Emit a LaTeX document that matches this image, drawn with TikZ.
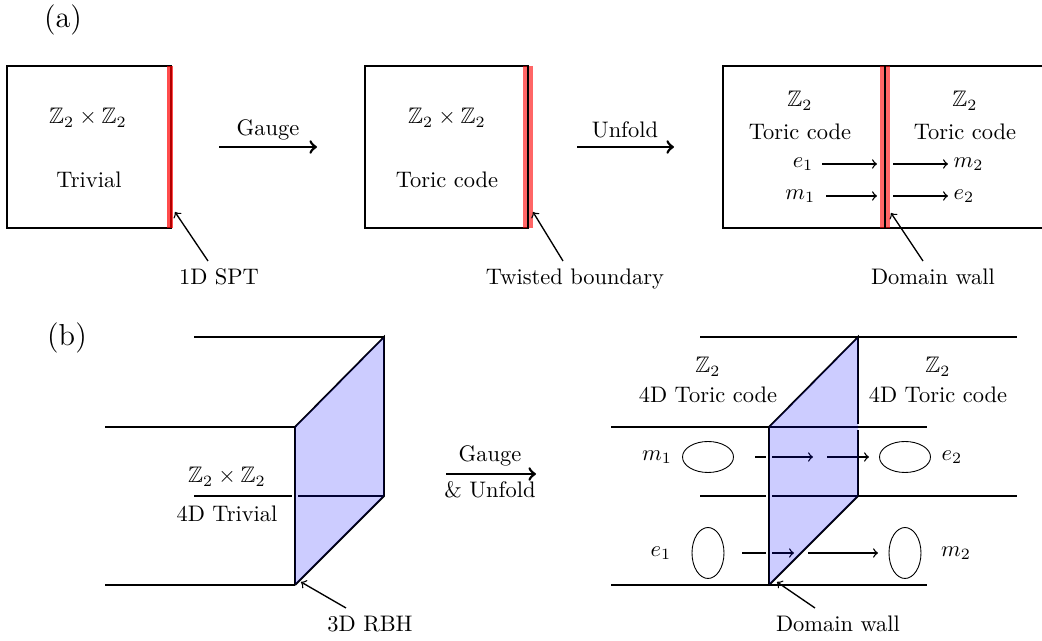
\documentclass[tikz,border=0pt]{standalone}
\usepackage{amssymb}
\usetikzlibrary{shapes.geometric}
\begin{document}
\begin{tikzpicture}[x=0.445pt,y=-0.445pt,
  box/.style={draw,thick},
  ln/.style={thick},
  bigarrow/.style={->,very thick},
  thinarrow/.style={->,semithick},
  wallband/.style={draw=red,line width=4.45pt,opacity=0.6},
  gapwhite/.style={draw=white,line width=2.6pt},
  face/.style={fill=blue,fill opacity=0.2},
  txt/.style={inner sep=0pt,anchor=base},
  plabel/.style={inner sep=0pt,anchor=base,font=\fontsize{13.5}{16}\selectfont},
  blob/.style={draw,ellipse,inner sep=0pt},
]
\useasboundingbox (0,0) rectangle (1042,641);

% ---------------- (a) ----------------
\node[plabel] (la) at (63,28) {(a)};

% box 1
\draw[box] (7,66) rectangle (171,228);
\coordinate (w1t) at (170,66);
\coordinate (w1b) at (170,228);
\draw[wallband,line width=3.1pt,opacity=0.7] (w1t) -- (w1b);
\node[txt] (z1) at (88,124) {$\mathbb{Z}_2\times\mathbb{Z}_2$};
\node[txt] (t1) at (89,188) {Trivial};

% gauge arrow
\coordinate (g1s) at (219,147);
\coordinate (g1e) at (317,147);
\draw[bigarrow] (g1s) -- (g1e);
\node[txt] (gauge1) at (268,136) {Gauge};

% 1D SPT
\node[txt] (spt) at (219,285) {1D SPT};
\coordinate (spts) at (208,261);
\coordinate (spte) at (175,212);
\draw[thinarrow] (spts) -- (spte);

% box 2
\draw[box] (365,66) rectangle (528,228);
\coordinate (w2t) at (528,66);
\coordinate (w2b) at (528,228);
\draw[wallband] (w2t) -- (w2b);
\draw[thick] (w2t) -- (w2b);
\node[txt] (z2) at (447,124) {$\mathbb{Z}_2\times\mathbb{Z}_2$};
\node[txt] (t2) at (447,188) {Toric code};

% unfold arrow
\coordinate (u1s) at (577,147);
\coordinate (u1e) at (674,147);
\draw[bigarrow] (u1s) -- (u1e);
\node[txt] (unfold1) at (625,138) {Unfold};

% twisted boundary
\node[txt] (twb) at (575,285) {Twisted boundary};
\coordinate (twbs) at (563,261);
\coordinate (twbe) at (533,212);
\draw[thinarrow] (twbs) -- (twbe);

% box 3
\draw[box] (1042,66) -- (723,66) -- (723,228) -- (1042,228);
\coordinate (w3t) at (885,66);
\coordinate (w3b) at (885,228);
\draw[wallband] (w3t) -- (w3b);
\draw[thick] (w3t) -- (w3b);
\node[txt] (z3l) at (800,107) {$\mathbb{Z}_2$};
\node[txt] (t3l) at (800,140) {Toric code};
\node[txt] (z3r) at (965,107) {$\mathbb{Z}_2$};
\node[txt] (t3r) at (965,140) {Toric code};

\node[anchor=east,inner sep=1pt] (e1a) at (816,164) {$e_1$};
\node[anchor=west,inner sep=1pt] (m2a) at (951,164) {$m_2$};
\node[anchor=east,inner sep=1pt] (m1a) at (818,196) {$m_1$};
\node[anchor=west,inner sep=1pt] (e2a) at (951,196) {$e_2$};
\coordinate (r1l) at (877,164);
\coordinate (r1r) at (893,164);
\coordinate (r2l) at (877,196);
\coordinate (r2r) at (893,196);
\coordinate (e1o) at (822,164);
\coordinate (m2o) at (948,164);
\coordinate (m1o) at (826,196);
\coordinate (e2o) at (948,196);
\draw[thinarrow] (e1o) -- (r1l);
\draw[thinarrow] (r1r) -- (m2o);
\draw[thinarrow] (m1o) -- (r2l);
\draw[thinarrow] (r2r) -- (e2o);

% domain wall (a)
\node[txt] (dwa) at (933,285) {Domain wall};
\coordinate (dwas) at (923,261);
\coordinate (dwae) at (891,213);
\draw[thinarrow] (dwas) -- (dwae);

% ---------------- (b) ----------------
\node[plabel] (lb) at (67,346) {(b)};

% left block
\coordinate (LA) at (295,427);
\coordinate (LB) at (384,337);
\coordinate (LC) at (384,496);
\coordinate (LD) at (295,585);
\draw[ln] (194,337) -- (LB);
\draw[ln] (194,496) -- (LC);
\draw[ln] (LA) -- (LB) -- (LC) -- (LD);
\draw[gapwhite] (295,445) -- (295,565);
\draw[ln] (LA) -- (LD);
\draw[ln] (105,427) -- (LA);
\draw[ln] (105,585) -- (LD);
\fill[face] (LA) -- (LB) -- (LC) -- (LD) -- cycle;

\node[txt] (zl) at (227,483) {$\mathbb{Z}_2\times\mathbb{Z}_2$};
\node[txt] (tl) at (227,522) {4D Trivial};

% gauge & unfold arrow
\coordinate (gus) at (446,474);
\coordinate (gue) at (536,474);
\draw[bigarrow] (gus) -- (gue);
\node[txt] (gauge2) at (490,462) {Gauge};
\node[txt] (unfold2) at (490,498) {\& Unfold};

% 3D RBH
\node[txt] (rbh) at (370,632) {3D RBH};
\coordinate (rbhs) at (346,608);
\coordinate (rbhe) at (301,582);
\draw[thinarrow] (rbhs) -- (rbhe);

% right block
\coordinate (RA) at (769,427);
\coordinate (RB) at (858,337);
\coordinate (RC) at (858,496);
\coordinate (RD) at (769,585);
\draw[ln] (700,337) -- (1017,337);
\draw[ln] (700,496) -- (1017,496);
\draw[ln] (RA) -- (RB) -- (RC) -- (RD);

% arrows behind the wall
\coordinate (a1s) at (755,457);
\coordinate (a1e) at (813,457);
\coordinate (a2s) at (827,457);
\coordinate (a2e) at (869,457);
\coordinate (a3s) at (742,553);
\coordinate (a3e) at (794,553);
\coordinate (a4s) at (808,553);
\coordinate (a4e) at (878,553);
\draw[thinarrow] (a1s) -- (a1e);
\draw[thinarrow] (a2s) -- (a2e);
\draw[thinarrow] (a3s) -- (a3e);
\draw[thinarrow] (a4s) -- (a4e);

\draw[gapwhite] (850,427) -- (866,427);
\draw[ln] (611,427) -- (927,427);
\draw[gapwhite] (769,445) -- (769,565);
\draw[ln] (RA) -- (RD);
\draw[ln] (611,585) -- (927,585);
\fill[face] (RA) -- (RB) -- (RC) -- (RD) -- cycle;

\node[txt] (zrl) at (708,373) {$\mathbb{Z}_2$};
\node[txt] (trl) at (708,403) {4D Toric code};
\node[txt] (zrr) at (938,373) {$\mathbb{Z}_2$};
\node[txt] (trr) at (938,403) {4D Toric code};

\node[blob,minimum width=51*0.445pt,minimum height=31*0.445pt] (el1) at (708,457) {};
\node[blob,minimum width=51*0.445pt,minimum height=31*0.445pt] (el2) at (905,457) {};
\node[blob,minimum width=32*0.445pt,minimum height=51*0.445pt] (el3) at (708,553) {};
\node[blob,minimum width=32*0.445pt,minimum height=51*0.445pt] (el4) at (905,553) {};

\node[inner sep=1pt] (m1b) at (657,457) {$m_1$};
\node[inner sep=1pt] (e2b) at (952,457) {$e_2$};
\node[inner sep=1pt] (e1b) at (661,553) {$e_1$};
\node[inner sep=1pt] (m2b) at (956,553) {$m_2$};

% domain wall (b)
\node[txt] (dwb) at (838,632) {Domain wall};
\coordinate (dwbs) at (815,608);
\coordinate (dwbe) at (777,582);
\draw[thinarrow] (dwbs) -- (dwbe);
\end{tikzpicture}
\end{document}
